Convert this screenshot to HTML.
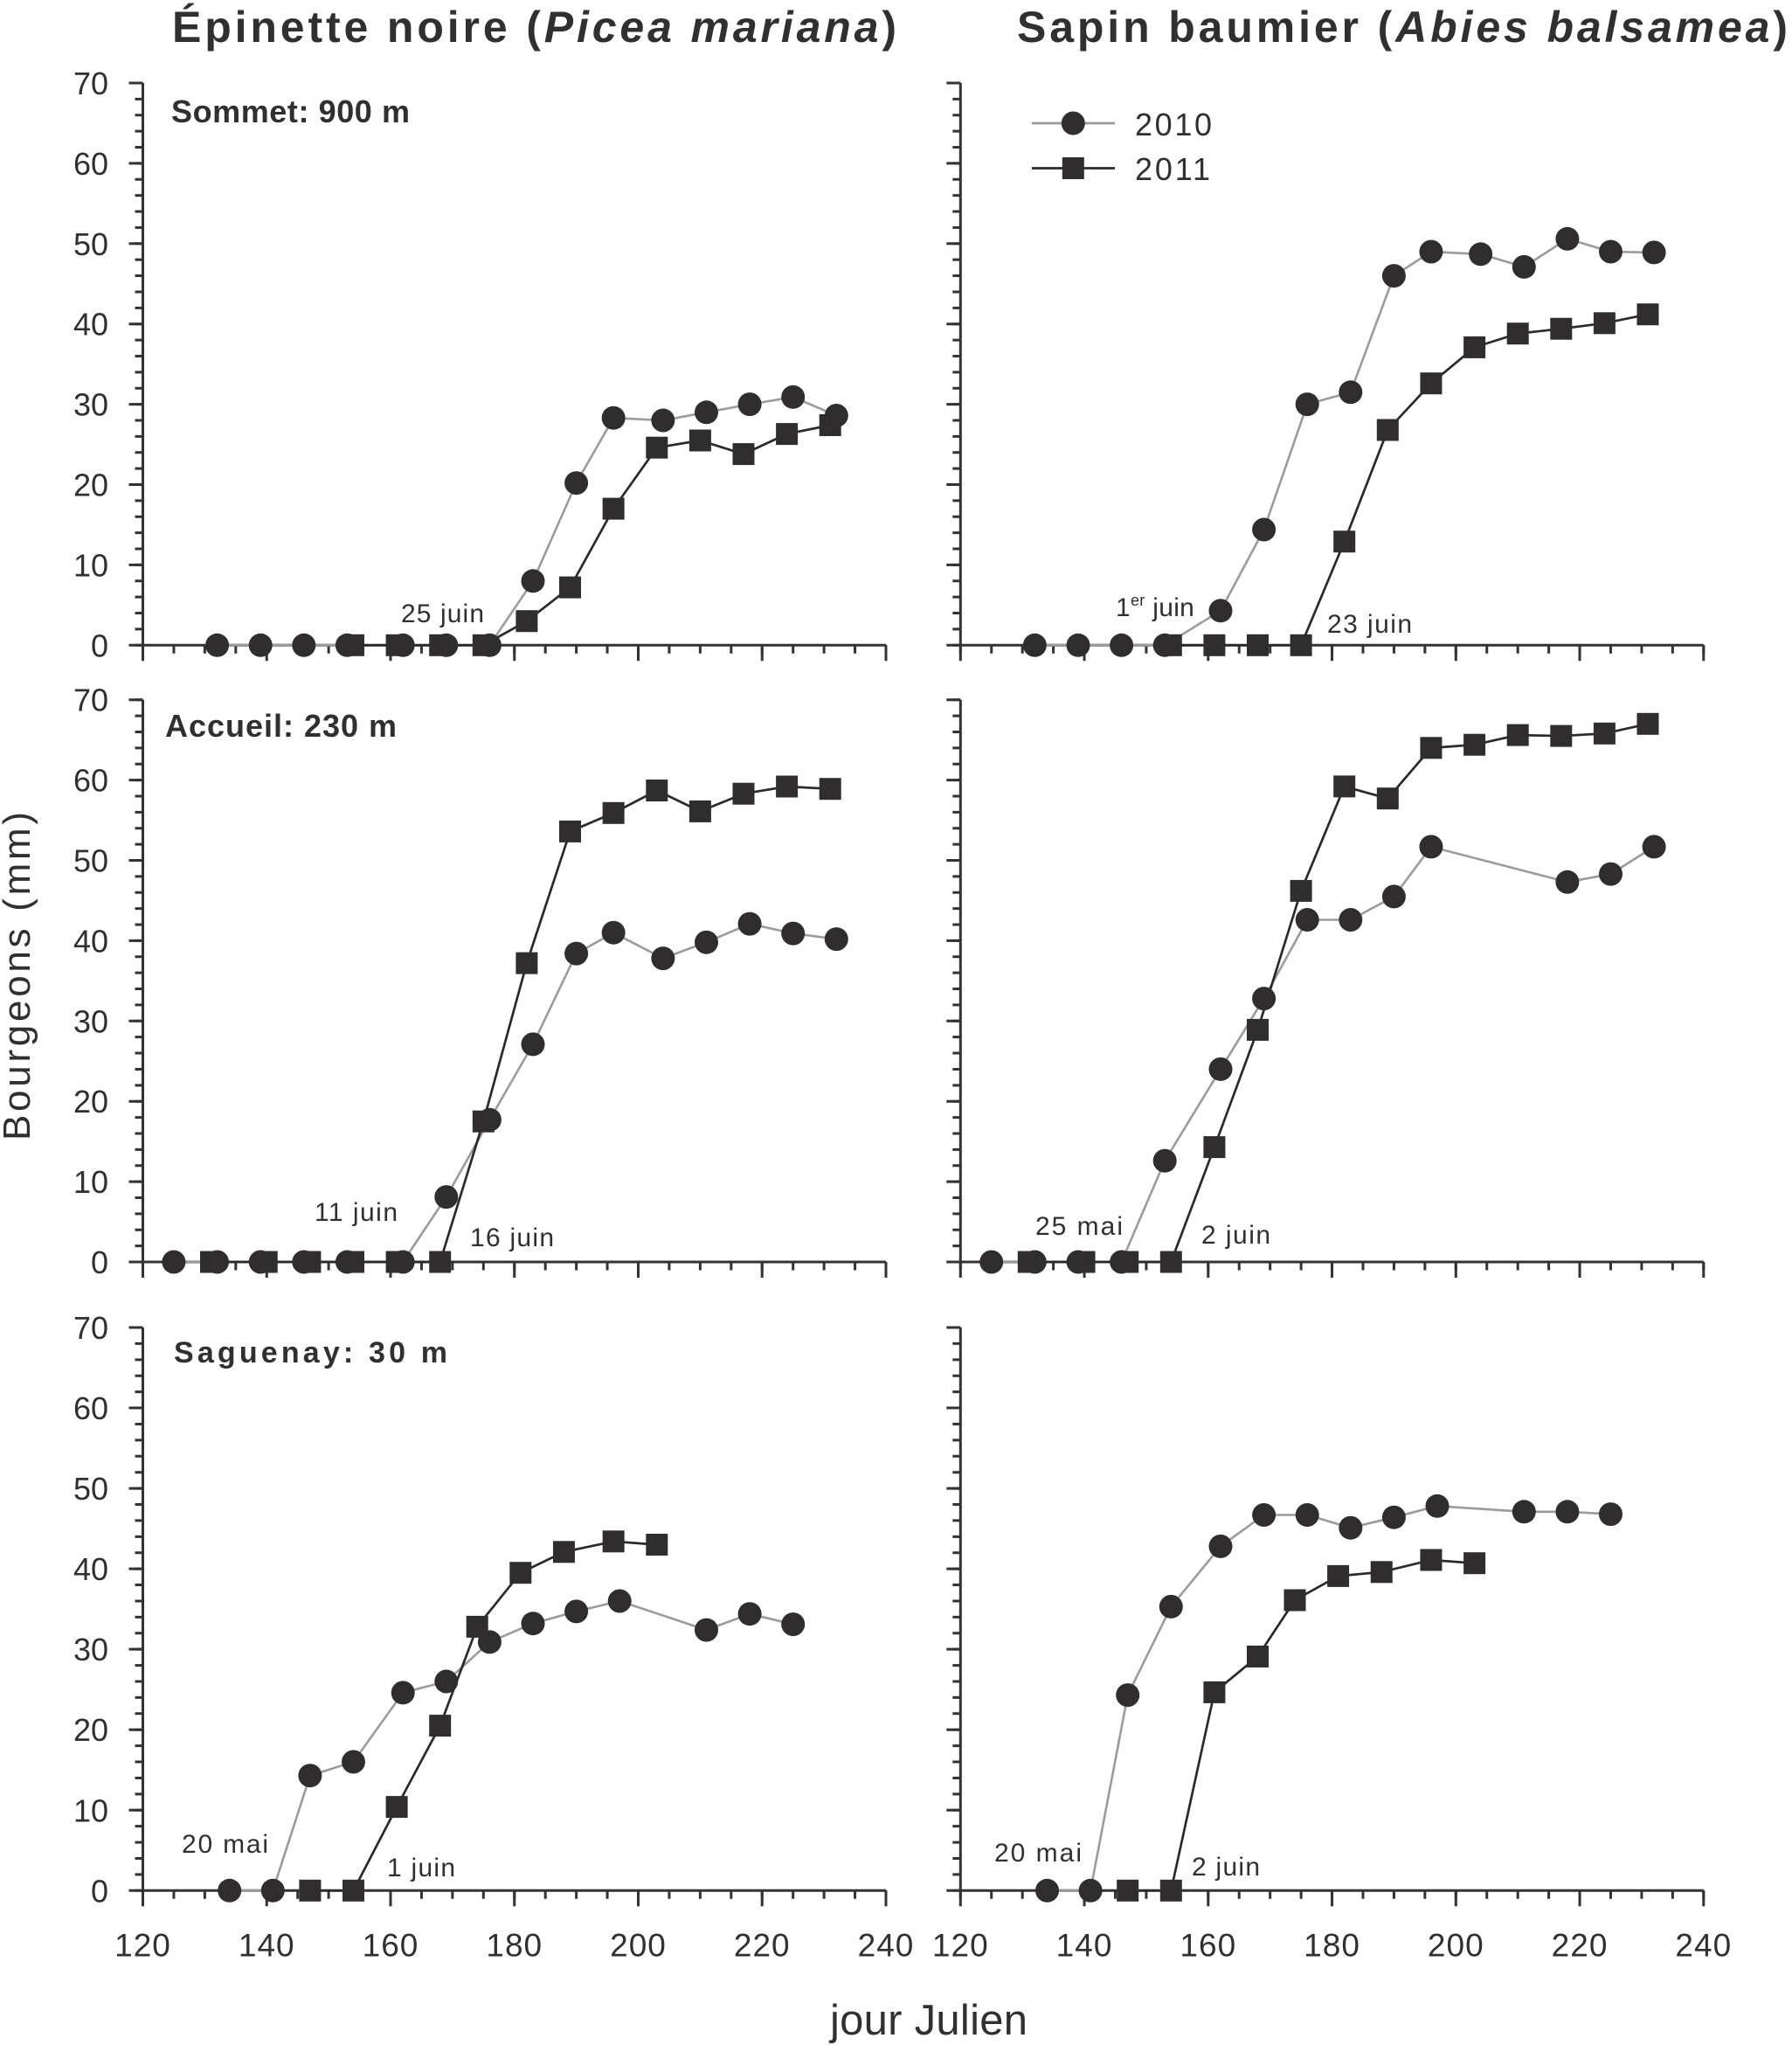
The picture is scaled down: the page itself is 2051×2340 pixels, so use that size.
<!DOCTYPE html>
<html><head><meta charset="utf-8"><style>
html,body{margin:0;padding:0;background:#fff;}
svg{display:block;}
text{font-family:"Liberation Sans",Arial,sans-serif;fill:#303030;}
</style></head><body>
<svg width="2051" height="2340" viewBox="0 0 2051 2340" xmlns="http://www.w3.org/2000/svg">
<defs>
<circle id="c" cx="0" cy="0" r="13.5" fill="#2f2d2e"/>
<rect id="s" x="-12.5" y="-12.5" width="25" height="25" fill="#2f2d2e"/>
</defs>
<rect width="2051" height="2340" fill="#fff"/>

<!-- Titles -->
<text x="197" y="48" font-size="50" font-weight="bold" textLength="829" lengthAdjust="spacing">Épinette noire (<tspan font-style="italic">Picea mariana</tspan>)</text>
<text x="1164" y="48" font-size="50" font-weight="bold" textLength="882" lengthAdjust="spacing">Sapin baumier (<tspan font-style="italic">Abies balsamea</tspan>)</text>

<!-- Axes -->
<g stroke="#333" fill="none">
  <line x1="163.5" y1="95" x2="163.5" y2="738.3" stroke-width="3"/>
  <line x1="163.5" y1="738.3" x2="1014" y2="738.3" stroke-width="3"/>
  <line x1="159" y1="739.8" x2="159" y2="93.5" stroke-width="9" stroke-dasharray="3 15.38"/>
  <line x1="155.5" y1="739.8" x2="155.5" y2="93.5" stroke-width="16" stroke-dasharray="3 88.9"/>
  <line x1="162" y1="743.05" x2="1015.5" y2="743.05" stroke-width="9.5" stroke-dasharray="3 32.4375"/>
  <line x1="162" y1="747.3" x2="1015.5" y2="747.3" stroke-width="18" stroke-dasharray="3 138.75"/>
  <line x1="1099.3" y1="95" x2="1099.3" y2="738.3" stroke-width="3"/>
  <line x1="1099.3" y1="738.3" x2="1949.8" y2="738.3" stroke-width="3"/>
  <line x1="1094.8" y1="739.8" x2="1094.8" y2="93.5" stroke-width="9" stroke-dasharray="3 15.38"/>
  <line x1="1091.3" y1="739.8" x2="1091.3" y2="93.5" stroke-width="16" stroke-dasharray="3 88.9"/>
  <line x1="1097.8" y1="743.05" x2="1951.3" y2="743.05" stroke-width="9.5" stroke-dasharray="3 32.4375"/>
  <line x1="1097.8" y1="747.3" x2="1951.3" y2="747.3" stroke-width="18" stroke-dasharray="3 138.75"/>
  <line x1="163.5" y1="800.7" x2="163.5" y2="1444" stroke-width="3"/>
  <line x1="163.5" y1="1444" x2="1014" y2="1444" stroke-width="3"/>
  <line x1="159" y1="1445.5" x2="159" y2="799.2" stroke-width="9" stroke-dasharray="3 15.38"/>
  <line x1="155.5" y1="1445.5" x2="155.5" y2="799.2" stroke-width="16" stroke-dasharray="3 88.9"/>
  <line x1="162" y1="1448.75" x2="1015.5" y2="1448.75" stroke-width="9.5" stroke-dasharray="3 32.4375"/>
  <line x1="162" y1="1453" x2="1015.5" y2="1453" stroke-width="18" stroke-dasharray="3 138.75"/>
  <line x1="1099.3" y1="800.7" x2="1099.3" y2="1444" stroke-width="3"/>
  <line x1="1099.3" y1="1444" x2="1949.8" y2="1444" stroke-width="3"/>
  <line x1="1094.8" y1="1445.5" x2="1094.8" y2="799.2" stroke-width="9" stroke-dasharray="3 15.38"/>
  <line x1="1091.3" y1="1445.5" x2="1091.3" y2="799.2" stroke-width="16" stroke-dasharray="3 88.9"/>
  <line x1="1097.8" y1="1448.75" x2="1951.3" y2="1448.75" stroke-width="9.5" stroke-dasharray="3 32.4375"/>
  <line x1="1097.8" y1="1453" x2="1951.3" y2="1453" stroke-width="18" stroke-dasharray="3 138.75"/>
  <line x1="163.5" y1="1519" x2="163.5" y2="2163.3" stroke-width="3"/>
  <line x1="163.5" y1="2163.3" x2="1014" y2="2163.3" stroke-width="3"/>
  <line x1="159" y1="2164.8" x2="159" y2="1517.5" stroke-width="9" stroke-dasharray="3 15.408"/>
  <line x1="155.5" y1="2164.8" x2="155.5" y2="1517.5" stroke-width="16" stroke-dasharray="3 89.04"/>
  <line x1="162" y1="2168.05" x2="1015.5" y2="2168.05" stroke-width="9.5" stroke-dasharray="3 32.4375"/>
  <line x1="162" y1="2172.3" x2="1015.5" y2="2172.3" stroke-width="18" stroke-dasharray="3 138.75"/>
  <line x1="1099.3" y1="1519" x2="1099.3" y2="2163.3" stroke-width="3"/>
  <line x1="1099.3" y1="2163.3" x2="1949.8" y2="2163.3" stroke-width="3"/>
  <line x1="1094.8" y1="2164.8" x2="1094.8" y2="1517.5" stroke-width="9" stroke-dasharray="3 15.408"/>
  <line x1="1091.3" y1="2164.8" x2="1091.3" y2="1517.5" stroke-width="16" stroke-dasharray="3 89.04"/>
  <line x1="1097.8" y1="2168.05" x2="1951.3" y2="2168.05" stroke-width="9.5" stroke-dasharray="3 32.4375"/>
  <line x1="1097.8" y1="2172.3" x2="1951.3" y2="2172.3" stroke-width="18" stroke-dasharray="3 138.75"/>
</g>

<!-- Y tick labels -->
<g font-size="36" text-anchor="end">
  <text x="124" y="751.3">0</text><text x="124" y="659.4">10</text><text x="124" y="567.5">20</text><text x="124" y="475.6">30</text><text x="124" y="383.7">40</text><text x="124" y="291.8">50</text><text x="124" y="199.9">60</text><text x="124" y="108">70</text>
  <text x="124" y="1457">0</text><text x="124" y="1365.1">10</text><text x="124" y="1273.2">20</text><text x="124" y="1181.3">30</text><text x="124" y="1089.4">40</text><text x="124" y="997.5">50</text><text x="124" y="905.6">60</text><text x="124" y="813.7">70</text>
  <text x="124" y="2176.3">0</text><text x="124" y="2084.3">10</text><text x="124" y="1992.2">20</text><text x="124" y="1900.2">30</text><text x="124" y="1808.1">40</text><text x="124" y="1716.1">50</text><text x="124" y="1624.1">60</text><text x="124" y="1532">70</text>
</g>

<!-- X tick labels -->
<g font-size="37" text-anchor="middle" letter-spacing="1">
  <text x="163.5" y="2238.3">120</text><text x="305.25" y="2238.3">140</text><text x="447" y="2238.3">160</text><text x="588.75" y="2238.3">180</text><text x="730.5" y="2238.3">200</text><text x="872.25" y="2238.3">220</text><text x="1014" y="2238.3">240</text>
  <text x="1099.3" y="2238.3">120</text><text x="1241.05" y="2238.3">140</text><text x="1382.8" y="2238.3">160</text><text x="1524.55" y="2238.3">180</text><text x="1666.3" y="2238.3">200</text><text x="1808.05" y="2238.3">220</text><text x="1949.8" y="2238.3">240</text>
</g>

<!-- Axis titles -->
<text transform="translate(34,1305) rotate(-90)" x="0" y="0" font-size="44" textLength="376" lengthAdjust="spacing">Bourgeons (mm)</text>
<text x="950" y="2328" font-size="49" textLength="226" lengthAdjust="spacing">jour Julien</text>

<!-- Panel labels -->
<g font-weight="bold">
  <text x="196" y="140" font-size="36" textLength="273" lengthAdjust="spacing">Sommet: 900 m</text>
  <text x="189" y="843" font-size="36" textLength="265" lengthAdjust="spacing">Accueil: 230 m</text>
  <text x="199" y="1559" font-size="34" textLength="313" lengthAdjust="spacing">Saguenay: 30 m</text>
</g>

<!-- Annotations -->
<g font-size="30">
  <text x="459" y="712" textLength="95" lengthAdjust="spacing">25 juin</text>
  <text x="1277" y="705" letter-spacing="0.3">1<tspan font-size="18" dy="-12">er</tspan><tspan dy="12"> juin</tspan></text>
  <text x="1519" y="724" textLength="97" lengthAdjust="spacing">23 juin</text>
  <text x="360" y="1397" textLength="95" lengthAdjust="spacing">11 juin</text>
  <text x="538" y="1426" textLength="96" lengthAdjust="spacing">16 juin</text>
  <text x="1185" y="1413" textLength="100" lengthAdjust="spacing">25 mai</text>
  <text x="1375" y="1423" textLength="79" lengthAdjust="spacing">2 juin</text>
  <text x="208" y="2120" textLength="99" lengthAdjust="spacing">20 mai</text>
  <text x="443" y="2147" textLength="78" lengthAdjust="spacing">1 juin</text>
  <text x="1138" y="2130" textLength="100" lengthAdjust="spacing">20 mai</text>
  <text x="1364" y="2146" textLength="78" lengthAdjust="spacing">2 juin</text>
</g>

<!-- Legend -->
<line x1="1181" y1="141" x2="1276" y2="141" stroke="#9b9b9b" stroke-width="2.7"/>
<use href="#c" x="1228.3" y="141"/>
<line x1="1181" y1="192.5" x2="1276" y2="192.5" stroke="#2a2a2a" stroke-width="2.7"/>
<use href="#s" x="1228.3" y="192.5"/>
<text x="1299" y="155" font-size="36" textLength="88" lengthAdjust="spacing">2010</text>
<text x="1299" y="206" font-size="36" textLength="86" lengthAdjust="spacing">2011</text>

<!-- Series lines -->
<g fill="none" stroke-linejoin="round">
  <g stroke="#9b9b9b" stroke-width="2.6">
    <polyline points="248.55,738.3 298.2,738.3 347.8,738.3 397.4,738.3 461.2,738.3 510.8,738.3 560.4,738.3 610,664.8 659.6,552.7 702.15,478.2 758.85,481 808.5,471.8 858.1,462.6 907.7,454.3 957.3,475.5"/>
    <polyline points="1184.35,738.3 1234,738.3 1283.6,738.3 1333.2,738.3 1397,698.8 1446.6,606 1496.2,462.6 1545.8,448.8 1595.4,315.6 1637.95,288 1694.65,290.8 1744.3,305.4 1793.9,273.3 1843.5,288 1893.1,288.9"/>
    <polyline points="198.9,1444 248.55,1444 298.2,1444 347.8,1444 397.4,1444 461.2,1444 510.8,1369.6 560.4,1281.3 610,1194.9 659.6,1091.1 702.15,1067.2 758.85,1096.6 808.5,1078.2 858.1,1057.1 907.7,1068.1 957.3,1074.6"/>
    <polyline points="1134.7,1444 1184.35,1444 1234,1444 1283.6,1444 1333.2,1328.2 1397,1223.4 1446.6,1142.6 1496.2,1052.5 1545.8,1052.5 1595.4,1025.9 1637.95,968.9 1793.9,1009.3 1843.5,1000.1 1893.1,968.9"/>
    <polyline points="262.7,2163.3 312.3,2163.3 354.9,2031.7 404.5,2016 461.2,1936.9 510.8,1924 560.4,1878.9 610,1857.7 659.6,1843.9 709.2,1832 808.5,1865.1 858.1,1846.7 907.7,1858.6"/>
    <polyline points="1198.5,2163.3 1248.1,2163.3 1290.7,1939.6 1340.3,1838.4 1397,1769.4 1446.6,1733.5 1496.2,1733.5 1545.8,1748.2 1595.4,1736.2 1645,1723.3 1744.3,1729.8 1793.9,1729.8 1843.5,1732.6"/>
  </g>
  <g stroke="#2a2a2a" stroke-width="2.7">
    <polyline points="404.5,738.3 454.1,738.3 503.7,738.3 553.3,738.3 602.9,710.7 652.5,672.1 702.15,582.1 751.8,512.2 801.4,504 851,519.6 900.6,496.6 950.2,486.5"/>
    <polyline points="1340.3,738.3 1389.9,738.3 1439.5,738.3 1489.1,738.3 1538.7,619.7 1588.3,492 1637.95,438.7 1687.6,397.4 1737.2,381.7 1786.8,376.2 1836.4,369.8 1886,359.7"/>
    <polyline points="241.5,1444 305.25,1444 354.9,1444 404.5,1444 454.1,1444 503.7,1444 553.3,1283.2 602.9,1102.1 652.5,951.4 702.15,930.3 751.8,904.5 801.4,928.4 851,908.2 900.6,900 950.2,902.7"/>
    <polyline points="1177.3,1444 1241.05,1444 1290.7,1444 1340.3,1444 1389.9,1312.6 1439.5,1178.4 1489.1,1019.4 1538.7,899.9 1588.3,913.7 1637.95,855.8 1687.6,852.2 1737.2,841.1 1786.8,842.1 1836.4,839.3 1886,828.3"/>
    <polyline points="354.9,2163.3 404.5,2163.3 454.1,2067.6 503.7,1974.6 546.2,1861.4 595.8,1799.7 645.45,1775.8 702.15,1763.8 751.8,1767.5"/>
    <polyline points="1290.7,2163.3 1340.3,2163.3 1389.9,1936.4 1439.5,1895.5 1482,1831 1531.6,1803.4 1581.25,1798.8 1637.95,1785 1687.6,1788.7"/>
  </g>
</g>

<!-- 2011 squares -->
<g>
  <use href="#s" x="404.5" y="738.3"/><use href="#s" x="454.1" y="738.3"/><use href="#s" x="503.7" y="738.3"/><use href="#s" x="553.3" y="738.3"/><use href="#s" x="602.9" y="710.7"/><use href="#s" x="652.5" y="672.1"/><use href="#s" x="702.15" y="582.1"/><use href="#s" x="751.8" y="512.2"/><use href="#s" x="801.4" y="504"/><use href="#s" x="851" y="519.6"/><use href="#s" x="900.6" y="496.6"/><use href="#s" x="950.2" y="486.5"/>
  <use href="#s" x="1340.3" y="738.3"/><use href="#s" x="1389.9" y="738.3"/><use href="#s" x="1439.5" y="738.3"/><use href="#s" x="1489.1" y="738.3"/><use href="#s" x="1538.7" y="619.7"/><use href="#s" x="1588.3" y="492"/><use href="#s" x="1637.95" y="438.7"/><use href="#s" x="1687.6" y="397.4"/><use href="#s" x="1737.2" y="381.7"/><use href="#s" x="1786.8" y="376.2"/><use href="#s" x="1836.4" y="369.8"/><use href="#s" x="1886" y="359.7"/>
  <use href="#s" x="241.5" y="1444"/><use href="#s" x="305.25" y="1444"/><use href="#s" x="354.9" y="1444"/><use href="#s" x="404.5" y="1444"/><use href="#s" x="454.1" y="1444"/><use href="#s" x="503.7" y="1444"/><use href="#s" x="553.3" y="1283.2"/><use href="#s" x="602.9" y="1102.1"/><use href="#s" x="652.5" y="951.4"/><use href="#s" x="702.15" y="930.3"/><use href="#s" x="751.8" y="904.5"/><use href="#s" x="801.4" y="928.4"/><use href="#s" x="851" y="908.2"/><use href="#s" x="900.6" y="900"/><use href="#s" x="950.2" y="902.7"/>
  <use href="#s" x="1177.3" y="1444"/><use href="#s" x="1241.05" y="1444"/><use href="#s" x="1290.7" y="1444"/><use href="#s" x="1340.3" y="1444"/><use href="#s" x="1389.9" y="1312.6"/><use href="#s" x="1439.5" y="1178.4"/><use href="#s" x="1489.1" y="1019.4"/><use href="#s" x="1538.7" y="899.9"/><use href="#s" x="1588.3" y="913.7"/><use href="#s" x="1637.95" y="855.8"/><use href="#s" x="1687.6" y="852.2"/><use href="#s" x="1737.2" y="841.1"/><use href="#s" x="1786.8" y="842.1"/><use href="#s" x="1836.4" y="839.3"/><use href="#s" x="1886" y="828.3"/>
  <use href="#s" x="354.9" y="2163.3"/><use href="#s" x="404.5" y="2163.3"/><use href="#s" x="454.1" y="2067.6"/><use href="#s" x="503.7" y="1974.6"/><use href="#s" x="546.2" y="1861.4"/><use href="#s" x="595.8" y="1799.7"/><use href="#s" x="645.45" y="1775.8"/><use href="#s" x="702.15" y="1763.8"/><use href="#s" x="751.8" y="1767.5"/>
  <use href="#s" x="1290.7" y="2163.3"/><use href="#s" x="1340.3" y="2163.3"/><use href="#s" x="1389.9" y="1936.4"/><use href="#s" x="1439.5" y="1895.5"/><use href="#s" x="1482" y="1831"/><use href="#s" x="1531.6" y="1803.4"/><use href="#s" x="1581.25" y="1798.8"/><use href="#s" x="1637.95" y="1785"/><use href="#s" x="1687.6" y="1788.7"/>
</g>

<!-- 2010 circles -->
<g>
  <use href="#c" x="248.55" y="738.3"/><use href="#c" x="298.2" y="738.3"/><use href="#c" x="347.8" y="738.3"/><use href="#c" x="397.4" y="738.3"/><use href="#c" x="461.2" y="738.3"/><use href="#c" x="510.8" y="738.3"/><use href="#c" x="560.4" y="738.3"/><use href="#c" x="610" y="664.8"/><use href="#c" x="659.6" y="552.7"/><use href="#c" x="702.15" y="478.2"/><use href="#c" x="758.85" y="481"/><use href="#c" x="808.5" y="471.8"/><use href="#c" x="858.1" y="462.6"/><use href="#c" x="907.7" y="454.3"/><use href="#c" x="957.3" y="475.5"/>
  <use href="#c" x="1184.35" y="738.3"/><use href="#c" x="1234" y="738.3"/><use href="#c" x="1283.6" y="738.3"/><use href="#c" x="1333.2" y="738.3"/><use href="#c" x="1397" y="698.8"/><use href="#c" x="1446.6" y="606"/><use href="#c" x="1496.2" y="462.6"/><use href="#c" x="1545.8" y="448.8"/><use href="#c" x="1595.4" y="315.6"/><use href="#c" x="1637.95" y="288"/><use href="#c" x="1694.65" y="290.8"/><use href="#c" x="1744.3" y="305.4"/><use href="#c" x="1793.9" y="273.3"/><use href="#c" x="1843.5" y="288"/><use href="#c" x="1893.1" y="288.9"/>
  <use href="#c" x="198.9" y="1444"/><use href="#c" x="248.55" y="1444"/><use href="#c" x="298.2" y="1444"/><use href="#c" x="347.8" y="1444"/><use href="#c" x="397.4" y="1444"/><use href="#c" x="461.2" y="1444"/><use href="#c" x="510.8" y="1369.6"/><use href="#c" x="560.4" y="1281.3"/><use href="#c" x="610" y="1194.9"/><use href="#c" x="659.6" y="1091.1"/><use href="#c" x="702.15" y="1067.2"/><use href="#c" x="758.85" y="1096.6"/><use href="#c" x="808.5" y="1078.2"/><use href="#c" x="858.1" y="1057.1"/><use href="#c" x="907.7" y="1068.1"/><use href="#c" x="957.3" y="1074.6"/>
  <use href="#c" x="1134.7" y="1444"/><use href="#c" x="1184.35" y="1444"/><use href="#c" x="1234" y="1444"/><use href="#c" x="1283.6" y="1444"/><use href="#c" x="1333.2" y="1328.2"/><use href="#c" x="1397" y="1223.4"/><use href="#c" x="1446.6" y="1142.6"/><use href="#c" x="1496.2" y="1052.5"/><use href="#c" x="1545.8" y="1052.5"/><use href="#c" x="1595.4" y="1025.9"/><use href="#c" x="1637.95" y="968.9"/><use href="#c" x="1793.9" y="1009.3"/><use href="#c" x="1843.5" y="1000.1"/><use href="#c" x="1893.1" y="968.9"/>
  <use href="#c" x="262.7" y="2163.3"/><use href="#c" x="312.3" y="2163.3"/><use href="#c" x="354.9" y="2031.7"/><use href="#c" x="404.5" y="2016"/><use href="#c" x="461.2" y="1936.9"/><use href="#c" x="510.8" y="1924"/><use href="#c" x="560.4" y="1878.9"/><use href="#c" x="610" y="1857.7"/><use href="#c" x="659.6" y="1843.9"/><use href="#c" x="709.2" y="1832"/><use href="#c" x="808.5" y="1865.1"/><use href="#c" x="858.1" y="1846.7"/><use href="#c" x="907.7" y="1858.6"/>
  <use href="#c" x="1198.5" y="2163.3"/><use href="#c" x="1248.1" y="2163.3"/><use href="#c" x="1290.7" y="1939.6"/><use href="#c" x="1340.3" y="1838.4"/><use href="#c" x="1397" y="1769.4"/><use href="#c" x="1446.6" y="1733.5"/><use href="#c" x="1496.2" y="1733.5"/><use href="#c" x="1545.8" y="1748.2"/><use href="#c" x="1595.4" y="1736.2"/><use href="#c" x="1645" y="1723.3"/><use href="#c" x="1744.3" y="1729.8"/><use href="#c" x="1793.9" y="1729.8"/><use href="#c" x="1843.5" y="1732.6"/>
</g>
</svg>
</body></html>
